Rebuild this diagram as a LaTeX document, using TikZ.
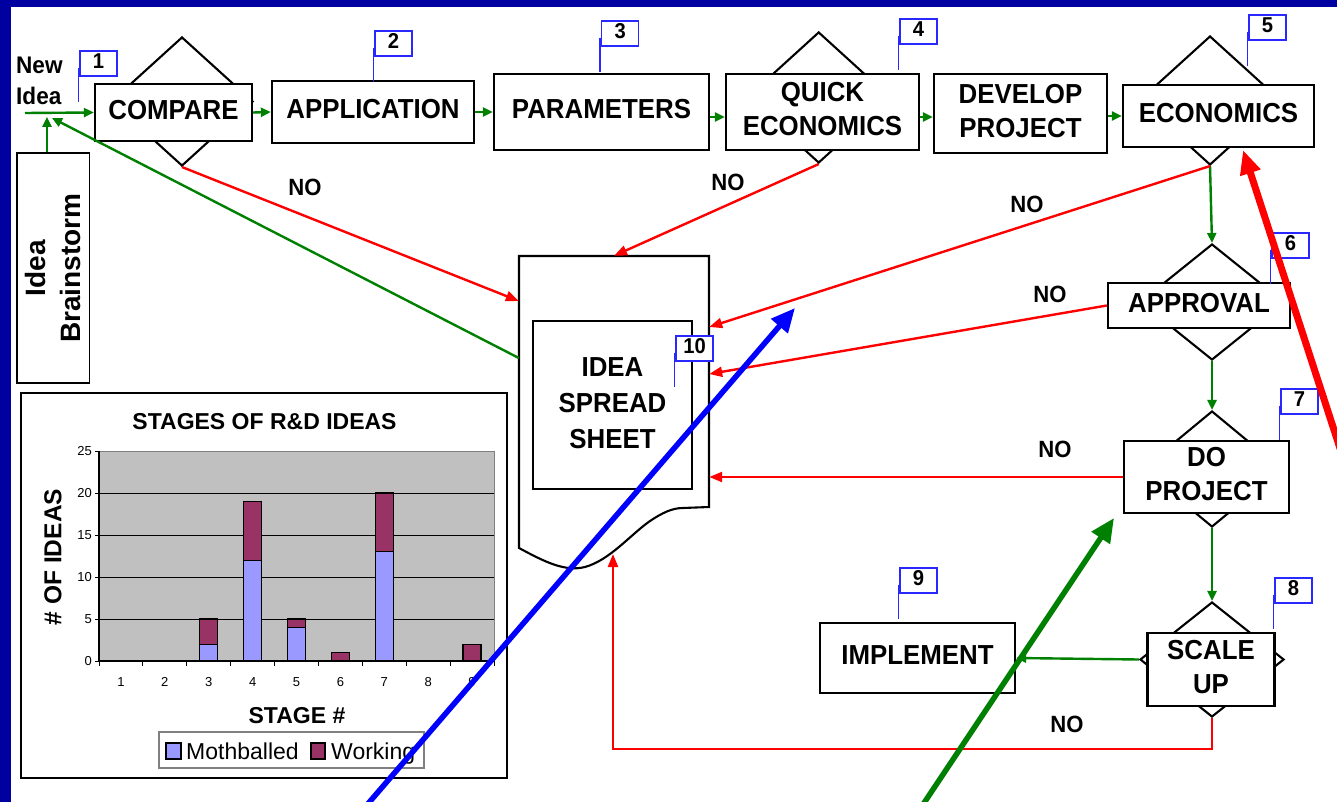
\documentclass[tikz,border=0pt]{standalone}
\usepackage{fontspec}
\setmainfont{Liberation Sans}
\usepackage{graphicx}
\usetikzlibrary{arrows.meta,shapes.geometric,calc}
\definecolor{navybg}{RGB}{0,0,160}
\definecolor{flagblue}{RGB}{40,40,255}
\definecolor{lgreen}{RGB}{0,128,0}
\definecolor{mothc}{RGB}{153,153,255}
\definecolor{workc}{RGB}{153,51,102}
\definecolor{plotgray}{RGB}{192,192,192}
\definecolor{edgegray}{RGB}{128,128,128}
\newcommand{\sqq}[1]{\scalebox{0.94}[1]{\begin{tabular}{@{}c@{}}#1\end{tabular}}}
\newcommand{\sql}[1]{\scalebox{0.94}[1]{\begin{tabular}{@{}l@{}}#1\end{tabular}}}
\tikzset{
  box/.style={draw=black, line width=2.3pt, fill=white, inner sep=0pt, font=\bfseries\fontsize{27.5}{34}\selectfont},
  dia/.style={diamond, draw=black, line width=2.1pt, fill=white, inner sep=0pt},
  garrow/.style={draw=lgreen, line width=2.4pt, -{Triangle[length=10pt,width=9pt]}},
  rarrow/.style={draw=red, line width=2.4pt, -{Triangle[length=13pt,width=10pt]}},
  nolabel/.style={font=\bfseries\fontsize{23.5}{28}\selectfont, inner sep=0pt},
  flagbox/.style={draw=flagblue, line width=1.4pt, fill=white, minimum width=37pt, minimum height=25pt, inner sep=0pt, font=\bfseries\fontsize{21.5}{24}\selectfont},
  flagpole/.style={draw=flagblue, line width=1.4pt},
  bigarrow/.style={line width=5.5pt, -{Triangle[length=24pt,width=21pt]}},
  thinbox/.style={draw=black, line width=1.5pt, fill=white, inner sep=0pt},
  ticklab/.style={font=\fontsize{13}{15}\selectfont, inner sep=0pt},
  charttitle/.style={font=\bfseries\fontsize{23}{27}\selectfont, inner sep=0pt}
}
\newcommand{\flagat}[4]{% name, x, y (top-left), number
  \node[flagbox] (#1) at (#2+18.5,#3+12.5) {\sqq{#4}};
  \draw[flagpole] (#1.south west) ++(-1,-9) -- ++(0,34);
}
\begin{document}
\begin{tikzpicture}[x=1pt,y=-1pt]
\useasboundingbox (0,0) rectangle (1337,802);
\clip (0,0) rectangle (1337,802);
\fill[navybg] (0,0) rectangle (1337,802);
\fill[white] (11,7) rectangle (1340,805);

% ---------- diamonds (behind boxes)
\node[dia, minimum width=142pt, minimum height=129pt] (cmpD) at (182,101.5) {};
\node[dia, minimum width=144pt, minimum height=131pt] (quickD) at (818.7,97.5) {};
\node[dia, minimum width=142pt, minimum height=129pt] (econD) at (1210,100.5) {};
\node[dia, minimum width=144pt, minimum height=116pt] (apprD) at (1212,302) {};
\node[dia, minimum width=140pt, minimum height=116pt] (doD) at (1212,469) {};
\node[dia, minimum width=144pt, minimum height=115pt] (scaleD) at (1212,659.5) {};

% ---------- boxes
\node[box, minimum width=157pt, minimum height=57pt] (compare) at (173.5,112.5) {\sqq{COMPARE}};
\node[box, minimum width=202pt, minimum height=62pt] (application) at (373,112) {\sqq{APPLICATION}};
\node[box, minimum width=215pt, minimum height=76pt] (parameters) at (601.5,112) {\sqq{PARAMETERS}};
\node[box, minimum width=193pt, minimum height=76pt] (quick) at (822.5,112) {\sqq{QUICK\\ECONOMICS}};
\node[box, minimum width=173pt, minimum height=79pt] (develop) at (1020.5,113.5) {\sqq{DEVELOP\\PROJECT}};
\node[box, minimum width=191pt, minimum height=62pt] (economics) at (1218.5,116) {\sqq{ECONOMICS}};
\node[box, minimum width=182pt, minimum height=45pt] (approval) at (1199,305.5) {\sqq{APPROVAL}};
\node[box, minimum width=165pt, minimum height=72pt] (doproj) at (1206.5,477) {\sqq{DO\\PROJECT}};
\node[box, minimum width=127pt, minimum height=73pt] (scaleup) at (1211,669.5) {\sqq{SCALE\\UP}};
\node[box, minimum width=195pt, minimum height=70pt] (implement) at (917.5,658) {\sqq{IMPLEMENT}};

% ---------- New idea / brainstorm
\node[anchor=west, inner sep=0pt, font=\bfseries\fontsize{24}{30.5}\selectfont] (newtxt) at (16,83) {\sql{New\\Idea}};
\coordinate (newstart) at (25,113);
\node[thinbox, minimum width=72.5pt, minimum height=230pt] (brain) at (53,268) {};
\node[rotate=90, align=center, inner sep=0pt, font=\bfseries\fontsize{28}{34.5}\selectfont] (braintxt) at (brain.center) {Idea\\Brainstorm};
\coordinate (bstip) at (47,117);
\coordinate (sstip) at (52,118);

% ---------- idea spreadsheet (document shape)
\node[minimum width=190pt, minimum height=251pt, inner sep=0pt] (ss) at (614,381.5) {};
\draw[black, line width=2.1pt, fill=white] (519,256) -- (709,256) -- (709,507) -- (683,508)
   .. controls (672,508) and (662,513) .. (650,521)
   .. controls (630,535) and (610,560) .. (585,567)
   .. controls (565,572) and (545,562) .. (519,548) -- cycle;
\node[box, line width=2.1pt, minimum width=159pt, minimum height=168pt, font=\bfseries\fontsize{27.5}{36}\selectfont] (idea) at (612.5,405) {\sqq{IDEA\\SPREAD\\SHEET}};
\coordinate (ssbot) at (613,554);

% ---------- flags
\flagat{f1}{80}{51}{1}
\flagat{f2}{375}{31}{2}
\flagat{f3}{601.7}{21}{3}
\flagat{f4}{900}{19}{4}
\flagat{f5}{1249}{15}{5}
\flagat{f6}{1272}{233}{6}
\flagat{f7}{1281}{389}{7}
\flagat{f8}{1275}{578}{8}
\flagat{f9}{900}{568}{9}
\flagat{f10}{676}{336}{10}

% ---------- green flow arrows
\draw[garrow] (newstart) -- (compare.west);
\draw[garrow] (compare.east) -- (application.west);
\draw[garrow] (application.east) -- (parameters.west);
\draw[garrow] ([yshift=-5pt]parameters.east) -- ([yshift=-5pt]quick.west);
\draw[garrow] ([yshift=-5pt]quick.east) -- ([yshift=-5pt]quick.east -| develop.west);
\draw[garrow] (develop.east |- economics.west) -- (economics.west);
\draw[garrow] (econD.south) -- (apprD.north);
\draw[garrow] (apprD.south) -- (doD.north);
\draw[garrow] (doD.south) -- (scaleD.north);
\draw[garrow] (scaleD.west) -- (implement.east);
\draw[garrow] (brain.north -| bstip) -- (bstip);
\draw[garrow] (ss.west |- 0,358) -- (sstip);

% ---------- red NO arrows
\draw[rarrow] (cmpD.south) -- (ss.west |- 0,301);
\draw[rarrow] (quickD.south) -- (ss.north);
\draw[rarrow] (econD.south) -- (ss.east |- 0,327);
\draw[rarrow] (approval.west) -- (ss.east |- 0,374);
\draw[rarrow] (doproj.west) -- (ss.east |- doproj.west);
\draw[rarrow] (scaleD.south) -- (scaleD.south |- 0,749) -| (ssbot);

\node[nolabel] (no1) at (305,190) {\sqq{NO}};
\node[nolabel] (no2) at (728,185) {\sqq{NO}};
\node[nolabel] (no3) at (1027,207) {\sqq{NO}};
\node[nolabel] (no4) at (1050,297) {\sqq{NO}};
\node[nolabel] (no5) at (1055,452) {\sqq{NO}};
\node[nolabel] (no6) at (1067,727) {\sqq{NO}};

% ---------- chart
\node[thinbox, minimum width=486pt, minimum height=385pt] (chart) at (264,585.5) {};
\node[charttitle] (ctitle) at (264.5,422) {STAGES OF R\&D IDEAS};
\fill[plotgray, draw=edgegray, line width=1pt] (99,451) rectangle (494,661);
\foreach \v in {5,10,15,20} {\draw[black, line width=0.9pt] (99,{661-8.4*\v}) -- (494,{661-8.4*\v});}
\draw[black, line width=1.2pt] (99,451) -- (99,661) -- (494,661);
\foreach \v in {0,5,10,15,20,25} {
  \draw[black, line width=1pt] (95,{661-8.4*\v}) -- (99,{661-8.4*\v});
  \node[ticklab, anchor=east] at (92,{661-8.4*\v}) {\v};
}
\foreach \k in {0,...,9} {\draw[black, line width=1pt] ({99+\k*43.89},661) -- ({99+\k*43.89},666);}
\foreach \k in {1,...,9} {\node[ticklab] at ({99+(\k-0.5)*43.89},682) {\k};}
% bars: stage/mothballed/total
\foreach \k/\m/\t in {3/2/5,4/12/19,5/4/5,7/13/20} {
  \filldraw[fill=mothc, draw=black, line width=1.2pt] ({99+(\k-0.5)*43.89-9},661) rectangle ({99+(\k-0.5)*43.89+9},{661-8.4*\m});
  \filldraw[fill=workc, draw=black, line width=1.2pt] ({99+(\k-0.5)*43.89-9},{661-8.4*\m}) rectangle ({99+(\k-0.5)*43.89+9},{661-8.4*\t});
}
\foreach \k/\t in {6/1,9/2} {
  \filldraw[fill=workc, draw=black, line width=1.2pt] ({99+(\k-0.5)*43.89-9},661) rectangle ({99+(\k-0.5)*43.89+9},{661-8.4*\t});
}
\node[rotate=90, charttitle, font=\bfseries\fontsize{24.5}{28}\selectfont] (ylab) at (53,557) {\# OF IDEAS};
\node[charttitle] (xlab) at (297,716) {STAGE \#};
\node[draw=edgegray, line width=1.2pt, fill=white, minimum width=265pt, minimum height=36pt, inner sep=0pt] (legend) at (291.5,750) {};
\filldraw[fill=mothc, draw=black, line width=1.2pt] (166,743) rectangle (181,759);
\node[anchor=base west, inner sep=0pt, font=\fontsize{23}{27}\selectfont] (lgm) at (186,759) {Mothballed};
\filldraw[fill=workc, draw=black, line width=1.2pt] (311,743) rectangle (325,759);
\node[anchor=base west, inner sep=0pt, font=\fontsize{23}{27}\selectfont] (lgw) at (331,759) {Working};

% ---------- big overlay arrows
\coordinate (bluetail) at (366,806);
\coordinate (bluetip) at (795,308);
\draw[bigarrow, blue] (bluetail) -- (bluetip);
\coordinate (greentail) at (922,806);
\coordinate (greentip) at (1114,518);
\draw[bigarrow, lgreen] (greentail) -- (greentip);
\coordinate (redtail) at (1348,473);
\coordinate (redtip) at (1243,150);
\draw[red, line width=7pt, -{Triangle[length=24pt,width=20pt]}] (redtail) -- (redtip);
\end{tikzpicture}
\end{document}
